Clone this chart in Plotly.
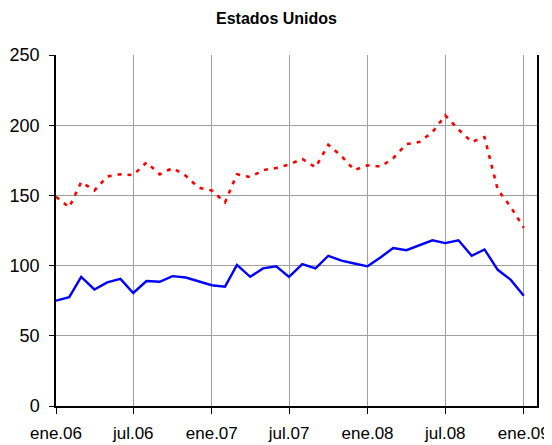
import plotly.graph_objects as go

months = ["2006-01-01","2006-02-01","2006-03-01","2006-04-01","2006-05-01","2006-06-01",
          "2006-07-01","2006-08-01","2006-09-01","2006-10-01","2006-11-01","2006-12-01",
          "2007-01-01","2007-02-01","2007-03-01","2007-04-01","2007-05-01","2007-06-01",
          "2007-07-01","2007-08-01","2007-09-01","2007-10-01","2007-11-01","2007-12-01",
          "2008-01-01","2008-02-01","2008-03-01","2008-04-01","2008-05-01","2008-06-01",
          "2008-07-01","2008-08-01","2008-09-01","2008-10-01","2008-11-01","2008-12-01",
          "2009-01-01"]

blue_vals = [75, 77.5, 92, 83, 88, 90.5, 80.5, 89, 88.5, 92.5, 91.5, 89, 86,
             85, 100.5, 92, 98, 99.5, 92, 101, 98, 107, 103.5, 101.5, 99.5,
             106, 112.5, 111, 114.5, 118, 116, 118, 107, 111.5, 97, 90, 78.5]

red_vals = [149, 141.5, 159.5, 153.5, 163.5, 165, 164.5, 173.5, 165, 169.5, 164, 155.5, 153.5,
            145, 165, 163, 168, 169.5, 172, 176, 170, 186, 178, 168, 171.5,
            170.5, 176.5, 186.5, 188, 195, 207, 197, 188, 191.5, 154, 142, 127]

tick_vals = ["2006-01-01","2006-07-01","2007-01-01","2007-07-01","2008-01-01","2008-07-01","2009-01-01"]
tick_text = ["ene.06","jul.06","ene.07","jul.07","ene.08","jul.08","ene.09"]

fig = go.Figure()
fig.add_trace(go.Scatter(x=months, y=red_vals, mode="lines",
                         line=dict(color="#FF0000", width=2.6, dash="4px,6px"),
                         showlegend=False))
fig.add_trace(go.Scatter(x=months, y=blue_vals, mode="lines",
                         line=dict(color="#0000FF", width=2.4),
                         showlegend=False))

font_family = "Liberation Sans, Arial, sans-serif"
fig.update_layout(
    width=552, height=445,
    margin=dict(l=48, r=23, t=47, b=47),
    paper_bgcolor="white", plot_bgcolor="white",
    title=dict(text="<b>Estados Unidos</b>", x=0.4864, xanchor="center",
               y=1 - 10/445, yanchor="middle",
               font=dict(family=font_family, size=16, color="black")),
    font=dict(family=font_family, size=17, color="black"),
)
fig.update_xaxes(
    type="date", range=["2006-01-01", "2009-02-01"],
    tickvals=tick_vals, ticktext=tick_text,
    showgrid=True, gridcolor="#a0a0a0", gridwidth=1,
    showline=True, linecolor="black", linewidth=1.5,
    ticks="outside", ticklen=6, tickcolor="black",
    zeroline=False, mirror=False, automargin=False,
    ticklabelstandoff=5,
    tickfont=dict(family=font_family, size=17),
)
fig.update_yaxes(
    range=[0, 250], dtick=50, tick0=0,
    showgrid=True, gridcolor="#a0a0a0", gridwidth=1,
    showline=True, linecolor="black", linewidth=1.5, mirror=True,
    ticks="outside", ticklen=5, tickcolor="black",
    zeroline=False, automargin=False,
    ticklabelstandoff=6,
    tickfont=dict(family=font_family, size=18),
)

fig.write_html("out.html")
